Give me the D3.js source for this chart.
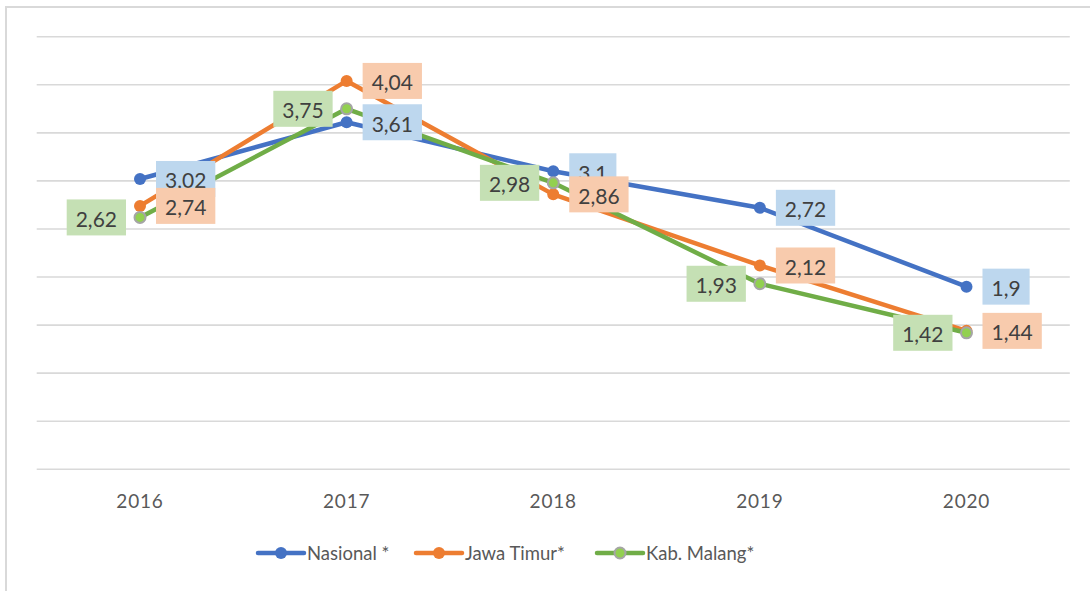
<!DOCTYPE html>
<html>
<head>
<meta charset="utf-8">
<script src="https://cdn.jsdelivr.net/npm/d3@7"></script>
<style>
  html, body { margin: 0; padding: 0; background: #fff; }
  svg { display: block; }
</style>
</head>
<body>
<svg id="chart" width="1090" height="591"></svg>
<script>
// Tahun dan nilai tiap wilayah
const years = ["2016", "2017", "2018", "2019", "2020"];
const nasional = [3.02, 3.61, 3.1, 2.72, 1.9];
const jawaTimur = [2.74, 4.04, 2.86, 2.12, 1.44];
const kabMalang = [2.62, 3.75, 2.98, 1.93, 1.42];
const seriesNames = ["Nasional *", "Jawa Timur*", "Kab. Malang*"];
const yTicks = [0, 0.5, 1, 1.5, 2, 2.5, 3, 3.5, 4, 4.5];

const series = [
  { name: seriesNames[0], values: nasional, line: "#4472c4", fill: "#4472c4", stroke: "#4472c4", box: "#bdd7ee", side: "right" },
  { name: seriesNames[1], values: jawaTimur, line: "#ed7d31", fill: "#ed7d31", stroke: "#ed7d31", box: "#f8cbad", side: "right" },
  { name: seriesNames[2], values: kabMalang, line: "#70ad47", fill: "#92d050", stroke: "#a5a5a5", box: "#c5e0b4", side: "left" }
];

const svg = d3.select("#chart");
const font = "Lato, 'Open Sans', sans-serif";

// chart area border
svg.append("rect")
  .attr("x", 6).attr("y", 7).attr("width", 1110).attr("height", 610)
  .attr("fill", "#fff").attr("stroke", "#d9d9d9").attr("stroke-width", 2);

const x = d3.scaleBand().domain(years).range([36.7, 1069.8]);
const y = d3.scaleLinear().domain([0, 4.5]).range([469.3, 36.7]);
const cx = d => x(d) + x.bandwidth() / 2;

// horizontal gridlines
svg.append("g").selectAll("line").data(yTicks).join("line")
  .attr("x1", x.range()[0]).attr("x2", x.range()[1])
  .attr("y1", d => y(d)).attr("y2", d => y(d))
  .attr("stroke", "#d9d9d9").attr("stroke-width", 1.6);

// category axis labels
const xAxis = d3.axisBottom(x).tickSize(0).tickPadding(0);
const gx = svg.append("g").attr("transform", "translate(0,469.3)").call(xAxis);
gx.select(".domain").remove();
gx.selectAll("text")
  .attr("dy", null).attr("y", 39)
  .attr("font-family", font).attr("font-size", 19)
  .attr("letter-spacing", 0.8)
  .attr("fill", "#595959");

const line = d3.line().x((v, i) => cx(years[i])).y(v => y(v));

// lines
series.forEach(s => {
  svg.append("path")
    .attr("d", line(s.values))
    .attr("fill", "none").attr("stroke", s.line)
    .attr("stroke-width", 4.5).attr("stroke-linejoin", "round").attr("stroke-linecap", "round");
  svg.append("g").selectAll("circle").data(s.values).join("circle")
    .attr("cx", (v, i) => cx(years[i])).attr("cy", v => y(v))
    .attr("r", s.stroke === s.fill ? 6 : 5.5)
    .attr("fill", s.fill).attr("stroke", s.stroke).attr("stroke-width", s.stroke === s.fill ? 0 : 2);
});

// data labels
const fmt = v => String(v).replace(".", ",");
series.forEach(s => {
  const g = svg.append("g");
  s.values.forEach((v, i) => {
    const px = cx(years[i]), py = y(v);
    const lg = g.append("g");
    const t = lg.append("text")
      .text(fmt(v))
      .attr("font-family", font).attr("font-size", 21)
      .attr("fill", "#404040")
      .attr("text-anchor", "middle");
    const w = t.node().getComputedTextLength() + 18;
    const h = 36;
    const left = s.side === "right" ? px + 16 : px - 14 - w;
    lg.insert("rect", "text")
      .attr("x", left).attr("y", py - h / 2)
      .attr("width", w).attr("height", h)
      .attr("fill", s.box);
    t.attr("x", left + w / 2).attr("y", py + 9.5);
  });
});

// legend
const legendX = [258, 416, 597];
const lg = svg.append("g");
series.forEach((s, i) => {
  const lx = legendX[i], ly = 553;
  lg.append("line")
    .attr("x1", lx).attr("x2", lx + 46).attr("y1", ly).attr("y2", ly)
    .attr("stroke", s.line).attr("stroke-width", 4.5).attr("stroke-linecap", "round");
  lg.append("circle")
    .attr("cx", lx + 23).attr("cy", ly)
    .attr("r", s.stroke === s.fill ? 6 : 5.5)
    .attr("fill", s.fill).attr("stroke", s.stroke).attr("stroke-width", s.stroke === s.fill ? 0 : 2);
  lg.append("text")
    .attr("x", lx + 49).attr("y", ly + 6.5)
    .attr("font-family", font).attr("font-size", 18.5)
    .attr("fill", "#595959")
    .text(s.name);
});
</script>
</body>
</html>
